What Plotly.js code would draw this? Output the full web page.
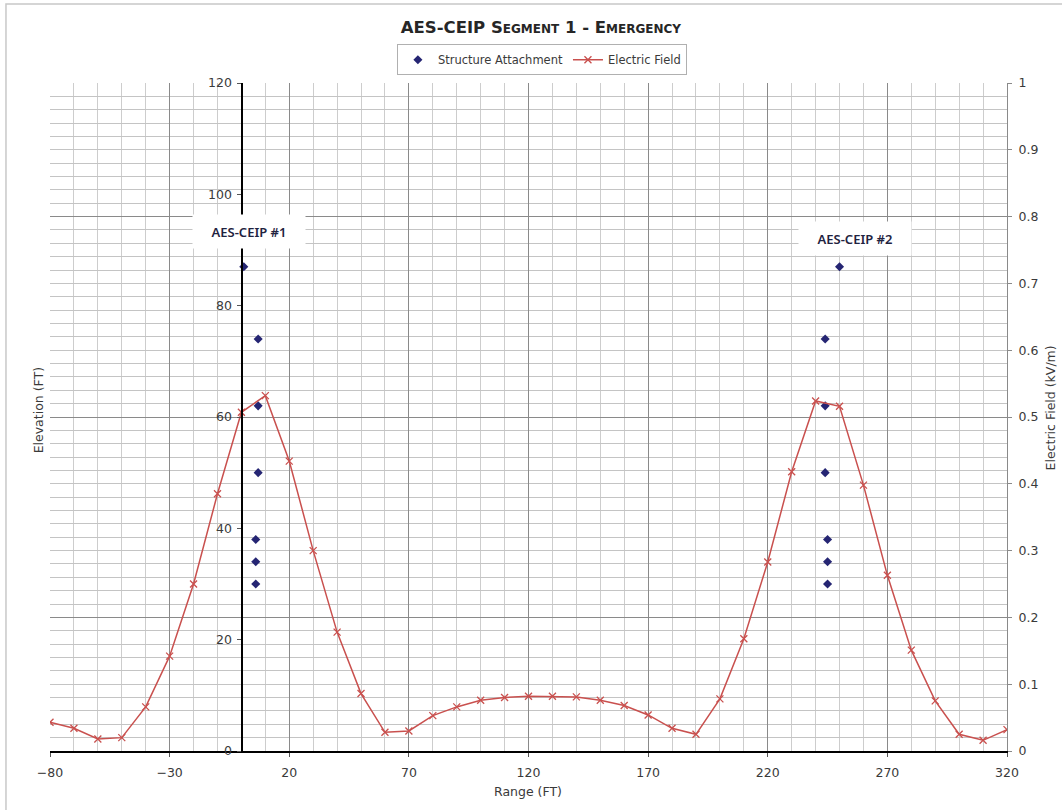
<!DOCTYPE html>
<html>
<head>
<meta charset="utf-8">
<script src="https://cdn.plot.ly/plotly-3.0.1.min.js"></script>
<style>html,body{margin:0;padding:0;background:#fff;}#chart{width:1062px;height:810px;}</style>
</head>
<body>
<div id="chart"></div>
<script>
// ---- data ----
const rangeFt = [-80,-70,-60,-50,-40,-30,-20,-10,0,10,20,30,40,50,60,70,80,90,100,110,120,130,140,150,160,170,180,190,200,210,220,230,240,250,260,270,280,290,300,310,320];
const electricField = [0.043,0.034,0.018,0.020,0.066,0.142,0.250,0.385,0.507,0.532,0.434,0.300,0.178,0.086,0.028,0.030,0.053,0.066,0.076,0.080,0.082,0.082,0.081,0.076,0.068,0.054,0.034,0.025,0.078,0.168,0.283,0.418,0.524,0.516,0.398,0.263,0.151,0.075,0.025,0.016,0.032];
const tower1X = [1,7,7,7,6,6,6];
const tower2X = [250,244,244,244,245,245,245];
const attachElev = [87,74,62,50,38,34,30];
const towerLabels = ["AES-CEIP #1","AES-CEIP #2"];
const towerLabelX = [3.2,256.5];
const towerLabelY = [93.4,92.1];
const xTickVals = [-80,-30,20,70,120,170,220,270,320];

const txt = '#3a3a3a';
const fontF = 'DejaVu Sans, Liberation Sans, Arial, sans-serif';

const traces = [
  {
    name: 'Structure Attachment', type: 'scatter', mode: 'markers',
    x: tower1X.concat(tower2X), y: attachElev.concat(attachElev),
    xaxis: 'x', yaxis: 'y',
    marker: {symbol: 'diamond', size: 7, color: '#252573'}
  },
  {
    name: 'Electric Field', type: 'scatter', mode: 'lines+markers',
    x: rangeFt, y: electricField, xaxis: 'x', yaxis: 'y2',
    line: {color: '#c9504e', width: 1.5},
    marker: {symbol: 'x-thin', size: 7, color: '#c9504e', line: {color: '#c9504e', width: 1.3}}
  },
  {
    type: 'scatter', mode: 'markers', x: [null], y: [null], xaxis: 'x', yaxis: 'y3',
    showlegend: false, hoverinfo: 'skip'
  }
];

const annotations = towerLabels.map((t, i) => ({
  text: t, x: towerLabelX[i], y: towerLabelY[i], xref: 'x', yref: 'y',
  xanchor: 'center', yanchor: 'middle',
  showarrow: false, bgcolor: '#ffffff', width: 110, height: 31,
  font: {family: 'Noto Sans, Open Sans, sans-serif', size: 13, weight: 600, color: '#1f2340'}
}));
annotations.push(
  {text: 'Elevation (FT)', xref: 'paper', yref: 'paper', x: -0.0125, y: 0.51, textangle: -90,
   xanchor: 'center', yanchor: 'middle',
   showarrow: false, font: {family: fontF, size: 12.5, color: txt}},
  {text: 'Electric Field (kV/m)', xref: 'paper', yref: 'paper', x: 1.045, y: 0.513, textangle: -90,
   xanchor: 'center', yanchor: 'middle',
   showarrow: false, font: {family: fontF, size: 12.5, color: txt}},
  {text: 'Range (FT)', xref: 'paper', yref: 'paper', x: 0.4995, y: -0.06,
   xanchor: 'center', yanchor: 'middle',
   showarrow: false, font: {family: fontF, size: 12.5, color: txt}}
);

const layout = {
  width: 1062, height: 810,
  margin: {l: 50, r: 55, t: 83, b: 59},
  paper_bgcolor: '#ffffff', plot_bgcolor: '#ffffff',
  showlegend: true,
  title: {
    text: '<b>AES-CEIP Segment 1 - Emergency</b>',
    font: {family: fontF, size: 16.5, color: '#262626', variant: 'small-caps'},
    xref: 'paper', x: 0.513, xanchor: 'center',
    yref: 'container', y: 1 - 27/810, yanchor: 'middle'
  },
  legend: {
    orientation: 'h', xref: 'paper', yref: 'paper', x: 0.514, xanchor: 'center',
    y: 1.058, yanchor: 'top', bordercolor: '#b0b0b0', borderwidth: 1,
    font: {family: fontF, size: 11.5, color: txt}, bgcolor: '#ffffff',
    itemwidth: 30
  },
  xaxis: {
    range: [-80, 320], tickmode: 'array', tickvals: xTickVals,
    showgrid: true, gridcolor: '#8a8a8a', gridwidth: 1,
    minor: {dtick: 10, tick0: -80, showgrid: true, gridcolor: '#cdcdcd', gridwidth: 1},
    showline: true, linecolor: '#000000', linewidth: 1.5,
    ticks: 'outside', ticklen: 4, tickcolor: '#555',
    zeroline: false, anchor: 'y', ticklabelstandoff: 5,
    tickfont: {family: fontF, size: 12.5, color: txt}
  },
  yaxis: {
    range: [0, 120], dtick: 20, anchor: 'free', position: 0.2,
    showgrid: false, zeroline: false,
    showline: true, linecolor: '#000000', linewidth: 1.3,
    ticks: 'outside', ticklen: 4, tickcolor: '#555', ticklabelstandoff: 3,
    tickfont: {family: fontF, size: 12.5, color: txt}
  },
  yaxis2: {
    range: [0, 1], dtick: 0.1, overlaying: 'y', side: 'right', anchor: 'x',
    showgrid: false, zeroline: false,
    showline: true, linecolor: '#8a8a8a', linewidth: 1,
    ticks: 'outside', ticklen: 4, tickcolor: '#8a8a8a', ticklabelstandoff: 4,
    tickfont: {family: fontF, size: 12.5, color: txt}
  },
  yaxis3: {
    range: [0, 1], tick0: 0.2, dtick: 0.3, overlaying: 'y', side: 'right', anchor: 'x',
    showgrid: true, gridcolor: '#8a8a8a', gridwidth: 1,
    minor: {dtick: 0.02, tick0: 0, showgrid: true, gridcolor: '#c4c4c4', gridwidth: 1},
    showticklabels: false, ticks: '', zeroline: false, showline: false
  },
  shapes: [
    {type: 'rect', xref: 'paper', yref: 'paper', x0: -0.046, x1: 1.1, y0: -0.1, y1: (751-4)/668,
     line: {color: '#c8c8c8', width: 1.5}, fillcolor: 'rgba(0,0,0,0)', layer: 'below'}
  ],
  annotations: annotations
};

Plotly.newPlot('chart', traces, layout, {displayModeBar: false, staticPlot: true});
</script>
</body>
</html>
